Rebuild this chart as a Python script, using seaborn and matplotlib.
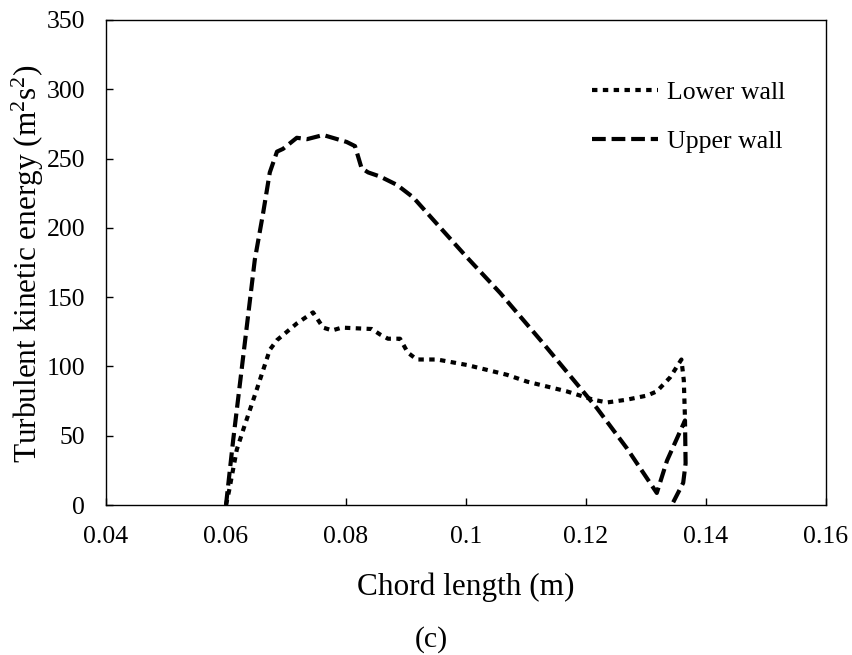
import matplotlib
matplotlib.use("Agg")
import matplotlib.pyplot as plt
import seaborn as sns
import pandas as pd

sns.set_style("ticks")
plt.rcParams['font.family'] = ['Liberation Serif', 'DejaVu Serif']
plt.rcParams['mathtext.fontset'] = 'custom'
plt.rcParams['mathtext.rm'] = 'Liberation Serif'
plt.rcParams['mathtext.default'] = 'regular'
for k in ['text.color', 'axes.labelcolor', 'xtick.color', 'ytick.color', 'axes.edgecolor']:
    plt.rcParams[k] = 'black'

# ---- data ----
lower_x = [0.0600, 0.0605, 0.0618, 0.0630, 0.0651, 0.0673, 0.0685, 0.0718, 0.0745,
           0.0762, 0.0777, 0.0793, 0.0843, 0.0857, 0.0870, 0.0890, 0.0903, 0.0918,
           0.0952, 0.1002, 0.1068, 0.1102, 0.1168, 0.1212, 0.1235, 0.1268, 0.1302,
           0.1318, 0.1340, 0.1359, 0.1363, 0.1365]
lower_y = [0, 10, 40, 56, 83, 112, 119, 131, 139,
           128, 126, 128, 127, 123, 120, 120, 110, 105,
           105, 101, 94, 89, 82, 76, 74, 76, 79,
           82, 92, 105, 90, 62]

upper_x = [0.0600, 0.0612, 0.0648, 0.0662, 0.0673, 0.0685, 0.0695, 0.0718, 0.0735,
           0.0762, 0.0801, 0.0815, 0.0826, 0.0837, 0.0857, 0.0885, 0.0912, 0.0945,
           0.1001, 0.1057, 0.1128, 0.1218, 0.1268, 0.1318, 0.1335, 0.1365, 0.1366,
           0.1362, 0.1343]
upper_y = [0, 47, 177, 211, 240, 255, 257, 265, 264,
           267, 262, 259, 243, 240, 237, 231, 222, 206,
           179, 153, 117, 70, 41, 8.7, 32, 61, 30,
           16, 0]

series_names = ["Lower wall", "Upper wall"]
x_ticks = [0.04, 0.06, 0.08, 0.10, 0.12, 0.14, 0.16]
x_tick_labels = ["0.04", "0.06", "0.08", "0.1", "0.12", "0.14", "0.16"]
y_ticks = [0, 50, 100, 150, 200, 250, 300, 350]

df_lower = pd.DataFrame({"x": lower_x, "y": lower_y})
df_upper = pd.DataFrame({"x": upper_x, "y": upper_y})

fig = plt.figure(figsize=(8.53, 6.55), dpi=100)
ax = fig.add_axes([106 / 853, 1 - 505 / 655, 720 / 853, 485 / 655])

lw = 3.0
sns.lineplot(data=df_lower, x="x", y="y", sort=False, estimator=None, ax=ax,
             color="black", linewidth=lw, linestyle=(0, (1.3, 1.3)))
h_lower = ax.lines[-1]
sns.lineplot(data=df_upper, x="x", y="y", sort=False, estimator=None, ax=ax,
             color="black", linewidth=lw, linestyle=(0, (3.3, 1.4)))
h_upper = ax.lines[-1]

ax.set_xlim(0.04, 0.16)
ax.set_ylim(0, 350)
ax.set_xticks(x_ticks)
ax.set_xticklabels(x_tick_labels)
ax.set_yticks(y_ticks)
ax.tick_params(axis="both", direction="in", length=5, width=1.0, labelsize=18.5,
               pad=15, colors="black")
for s in ax.spines.values():
    s.set_linewidth(1.0)
    s.set_color("black")
    s.set_visible(True)

ax.set_xlabel("")
ax.set_ylabel("")
fig.text(466 / 853, 1 - 587 / 655, "Chord length (m)", fontsize=22.5,
         ha="center", va="center", color="black")
fig.text(28 / 853, 1 - 264 / 655, r"Turbulent kinetic energy (m$^2$s$^2$)",
         fontsize=22.5, rotation=90, ha="center", va="center", color="black")
fig.text(431 / 853, 1 - 640 / 655, "(c)", fontsize=21.5, ha="center", va="center",
         color="black")

leg = ax.legend([h_lower, h_upper], series_names, loc="upper left",
                bbox_to_anchor=((592 - 106) / 720, (505 - 81) / 485),
                frameon=False, fontsize=18.5, handlelength=2.55,
                handletextpad=0.35, labelspacing=1.0, borderpad=0,
                borderaxespad=0)
for t in leg.get_texts():
    t.set_color("black")

fig.savefig("out.png", dpi=100)
